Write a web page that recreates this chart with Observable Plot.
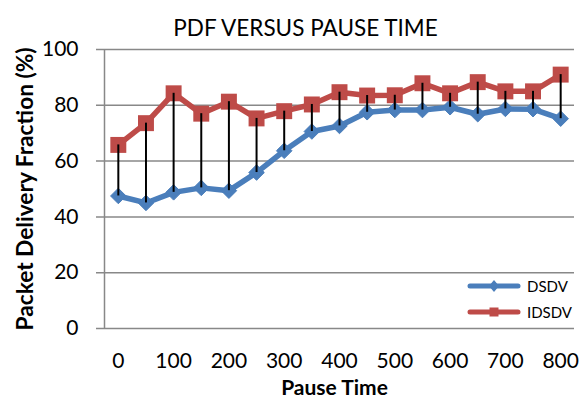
<!DOCTYPE html>
<html><head><meta charset="utf-8">
<script src="https://cdn.jsdelivr.net/npm/d3@7"></script>
<script src="https://cdn.jsdelivr.net/npm/@observablehq/plot@0.6"></script>
<style>
body{margin:0;background:#fff;}
#wrap{position:relative;width:582px;height:406px;font-family:Lato, "Open Sans", sans-serif;}
#legend{position:absolute;left:467px;top:273px;font-size:15px;color:#000;}
#legend .row{display:flex;align-items:center;height:26px;}
#legend svg{display:block;margin-right:6px;}
</style></head><body><div id="wrap"></div>
<script>
const pauseTime = [0,50,100,150,200,250,300,350,400,450,500,550,600,650,700,750,800];
const dsdv  = [47.5,45.0,48.8,50.4,49.4,55.9,63.7,70.6,72.6,77.5,78.3,78.3,79.3,76.8,78.7,78.6,75.2];
const idsdv = [65.8,73.6,84.3,77.0,81.3,75.3,77.9,80.3,84.7,83.5,83.6,87.9,84.3,88.3,85.0,85.0,91.0];
const yTicks = [0,20,40,60,80,100];
const xTicks = [0,100,200,300,400,500,600,700,800];
const seriesNames = ["DSDV","IDSDV"];
const colors = ["#4A7EBB","#BE4B48"];
const xDomain = [-25, 825];

const rows = pauseTime.map((t,i)=>({t, dsdv: dsdv[i], idsdv: idsdv[i]}));

const font = "Lato, 'Open Sans', sans-serif";
const chart = Plot.plot({
  width: 582, height: 406,
  marginTop: 49, marginBottom: 78, marginLeft: 104, marginRight: 8,
  style: {fontFamily: font, color: "#000", background: "#fff", overflow: "visible"},
  x: {domain: xDomain},
  y: {domain: [0,100]},
  marks: [
    Plot.ruleY(yTicks, {stroke: "#888", strokeWidth: 1.5, insetLeft: -8}),
    Plot.ruleX([xDomain[0]], {stroke: "#888", strokeWidth: 1.5}),
    Plot.axisY({ticks: yTicks, tickSize: 0, tickPadding: 26, fontSize: 21, label: null}),
    Plot.axisX({ticks: xTicks, tickSize: 0, tickPadding: 25, fontSize: 21, label: null, tickFormat: d=>String(d)}),
    Plot.line(rows, {x: "t", y: "dsdv", stroke: colors[0], strokeWidth: 5.5}),
    Plot.line(rows, {x: "t", y: "idsdv", stroke: colors[1], strokeWidth: 5.5}),
    Plot.dot(rows, {x: "t", y: "dsdv", symbol: "diamond2", r: 7, fill: colors[0], stroke: colors[0], strokeWidth: 1}),
    Plot.dot(rows, {x: "t", y: "idsdv", symbol: "square", r: 9, fill: colors[1]}),
    Plot.ruleX(rows, {x: "t", y1: "dsdv", y2: "idsdv", stroke: "#000", strokeWidth: 2}),
    Plot.text(["PDF VERSUS PAUSE TIME"], {frameAnchor: "top", dx: -34, dy: -29, fontSize: 22.5, fill: "#000"}),
    Plot.text(["Pause Time"], {frameAnchor: "bottom", dx: -5, dy: 66, fontSize: 21, fontWeight: "bold", fill: "#000"}),
    Plot.text(["Packet Delivery Fraction (%)"], {frameAnchor: "left", textAnchor: "middle", dx: -79, rotate: -90, fontSize: 22.7, fontWeight: "bold", fill: "#000"})
  ]
});
const wrap = document.getElementById("wrap");
wrap.appendChild(chart);

const legend = document.createElement("div");
legend.id = "legend";
seriesNames.forEach((name,i)=>{
  const row = document.createElement("div");
  row.className = "row";
  const ns = "http://www.w3.org/2000/svg";
  const s = document.createElementNS(ns,"svg");
  s.setAttribute("width","54"); s.setAttribute("height","14");
  const ln = document.createElementNS(ns,"line");
  ln.setAttribute("x1","3"); ln.setAttribute("x2","51"); ln.setAttribute("y1","7"); ln.setAttribute("y2","7");
  ln.setAttribute("stroke",colors[i]); ln.setAttribute("stroke-width","5"); ln.setAttribute("stroke-linecap","round");
  s.appendChild(ln);
  const m = document.createElementNS(ns,"path");
  m.setAttribute("d", i===0 ? "M27,1 L32,7 L27,13 L22,7Z" : "M22.5,2.5 h9 v9 h-9Z");
  m.setAttribute("fill",colors[i]);
  s.appendChild(m);
  row.appendChild(s);
  const tx = document.createElement("span");
  tx.textContent = name;
  row.appendChild(tx);
  legend.appendChild(row);
});
wrap.appendChild(legend);
</script>
</body></html>
